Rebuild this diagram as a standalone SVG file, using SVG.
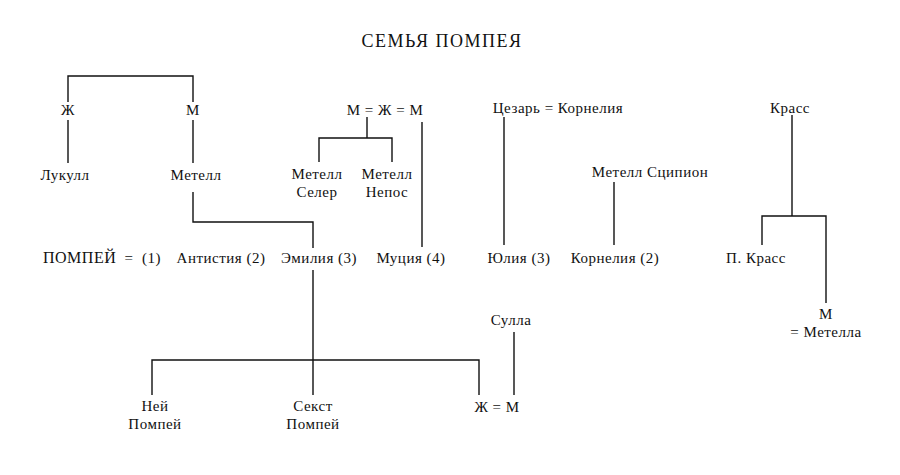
<svg xmlns="http://www.w3.org/2000/svg" width="900" height="475" viewBox="0 0 900 475">
<style>
text{font-family:'Liberation Serif','Times New Roman','DejaVu Serif',serif;font-size:15px;letter-spacing:0.5px;fill:#111;text-anchor:middle}
.t{font-size:18px;letter-spacing:1.5px}
.l{text-anchor:start}
#connectors path{fill:none;stroke:#111;stroke-width:1.4}
</style>
<rect width="900" height="475" fill="#fff"/>
<text class="t" x="442" y="47">СЕМЬЯ ПОМПЕЯ</text>
<g id="connectors">
<path d="M68,102V76H193V102"/>
<path d="M68,120V163"/>
<path d="M193,120V163"/>
<path d="M193,192V222H313V248"/>
<path d="M367,117V138M319,162V138H392V162"/>
<path d="M422,122V247"/>
<path d="M504,117V245"/>
<path d="M614,182V245"/>
<path d="M792,115V216M762,245V216H826V303"/>
<path d="M313,270V395M152,395V360H479V395"/>
<path d="M514,332V395"/>
</g>
<g id="zh1"><text x="68" y="115">Ж</text></g>
<g id="m1"><text x="193" y="115">М</text></g>
<g id="lukull"><text x="65" y="180">Лукулл</text></g>
<g id="metell"><text x="196" y="180">Метелл</text></g>
<g id="mzhm"><text x="385" y="115">М = Ж = М</text></g>
<g id="celer"><text x="317" y="179">Метелл</text><text x="317" y="197">Селер</text></g>
<g id="nepos"><text x="387" y="179">Метелл</text><text x="387" y="197">Непос</text></g>
<g id="caesar"><text x="558" y="113">Цезарь = Корнелия</text></g>
<g id="scipio"><text x="650" y="177">Метелл Сципион</text></g>
<g id="crassus"><text x="790" y="113">Красс</text></g>
<g id="pompey"><text class="l" x="43" y="263" style="font-size:16px">ПОМПЕЙ</text><text x="129" y="263">=</text><text class="l" x="142" y="263">(1)</text></g>
<g id="antistia"><text x="221" y="263">Антистия (2)</text></g>
<g id="aemilia"><text x="319" y="263">Эмилия (3)</text></g>
<g id="mucia"><text x="411" y="263">Муция (4)</text></g>
<g id="julia"><text x="519" y="263">Юлия (3)</text></g>
<g id="cornelia"><text x="615" y="263">Корнелия (2)</text></g>
<g id="pcrassus"><text x="756" y="263">П. Красс</text></g>
<g id="mmetella"><text x="826" y="319">М</text><text x="826" y="337">= Метелла</text></g>
<g id="sulla"><text x="511" y="325">Сулла</text></g>
<g id="gnaeus"><text x="155" y="411">Ней</text><text x="155" y="429">Помпей</text></g>
<g id="sextus"><text x="313" y="411">Секст</text><text x="313" y="429">Помпей</text></g>
<g id="zhm"><text x="497" y="412">Ж = М</text></g>
</svg>
